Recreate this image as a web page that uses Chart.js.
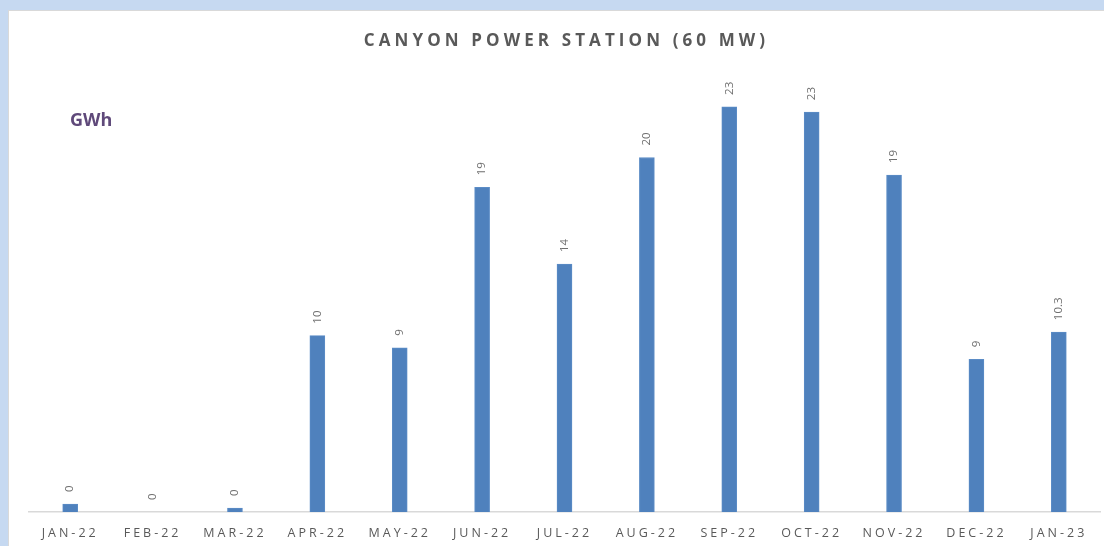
<!DOCTYPE html>
<html>
<head>
<meta charset="utf-8">
<script src="https://cdn.jsdelivr.net/npm/chart.js@4"></script>
<style>
  html, body { margin: 0; padding: 0; }
  body { width: 1104px; height: 546px; background: #c6d9f1; overflow: hidden; position: relative; }
  #panel {
    position: absolute; left: 8px; top: 10px; width: 1096px; height: 536px;
    background: #fff; border-top: 1px solid #d9d9d9; border-left: 1px solid #d9d9d9;
    box-sizing: border-box;
  }
  #chart { position: absolute; left: 0; top: 0; }
</style>
</head>
<body>
<div id="panel"><canvas id="chart" width="1095" height="535"></canvas></div>
<script>
const months = ['JAN-22', 'FEB-22', 'MAR-22', 'APR-22', 'MAY-22', 'JUN-22', 'JUL-22',
                'AUG-22', 'SEP-22', 'OCT-22', 'NOV-22', 'DEC-22', 'JAN-23'];
const generation = [0.46, 0, 0.23, 10.1, 9.4, 18.6, 14.2, 20.3, 23.2, 22.9, 19.3, 8.75, 10.3];
const shownValues = ['0', '0', '0', '10', '9', '19', '14', '20', '23', '23', '19', '9', '10.3'];
const chartTitle = 'CANYON POWER STATION (60 MW)';
const unitLabel = 'GWh';

const grey = '#595959';

// title, unit, spaced month labels and rotated value labels
const textPlugin = {
    id: 'texts',
    afterDatasetsDraw(chart) {
        const ctx = chart.ctx;
        const area = chart.chartArea;
        const xScale = chart.scales.x;
        const meta = chart.getDatasetMeta(0);

        ctx.save();
        ctx.fillStyle = grey;
        ctx.font = 'bold 17px "Open Sans"';
        ctx.letterSpacing = '4.1px';
        ctx.textAlign = 'center';
        ctx.textBaseline = 'alphabetic';
        ctx.fillText(chartTitle, (area.left + area.right) / 2 + 2, 35);

        ctx.fillStyle = '#5f497a';
        ctx.font = 'bold 18px "Open Sans"';
        ctx.letterSpacing = '0px';
        ctx.textAlign = 'left';
        ctx.fillText(unitLabel, 61, 115);

        ctx.fillStyle = grey;
        ctx.font = '12.5px "Open Sans"';
        ctx.letterSpacing = '3px';
        ctx.textAlign = 'center';
        ctx.textBaseline = 'middle';
        months.forEach((m, i) => {
            ctx.fillText(m, xScale.getPixelForValue(i), 522.5);
        });

        ctx.fillStyle = '#6f6f6f';
        ctx.font = '11.5px "Open Sans"';
        ctx.letterSpacing = '0px';
        ctx.textAlign = 'left';
        ctx.textBaseline = 'middle';
        meta.data.forEach((bar, i) => {
            ctx.save();
            ctx.translate(bar.x, bar.y - 12);
            ctx.rotate(-Math.PI / 2);
            ctx.fillText(shownValues[i], 0, 0);
            ctx.restore();
        });
        ctx.restore();
    }
};

new Chart(document.getElementById('chart'), {
    type: 'bar',
    data: {
        labels: months,
        datasets: [{
            data: generation,
            backgroundColor: '#4f81bd',
            borderColor: '#5b8cc6',
            borderWidth: 1,
            barThickness: 15
        }]
    },
    options: {
        responsive: false,
        animation: false,
        layout: { padding: { left: 20, right: 4, top: 47, bottom: 26 } },
        plugins: {
            legend: { display: false },
            tooltip: { enabled: false }
        },
        scales: {
            x: {
                ticks: { display: false },
                grid: { display: false },
                border: { color: '#d9d9d9', width: 1.5 }
            },
            y: {
                display: false,
                min: 0,
                max: 26
            }
        }
    },
    plugins: [textPlugin]
});
</script>
</body>
</html>
